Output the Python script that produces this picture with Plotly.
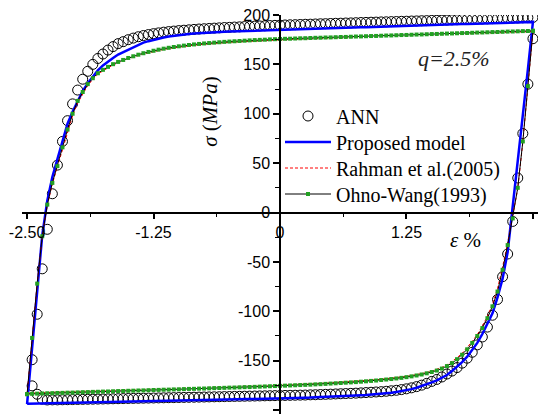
import plotly.graph_objects as go

# strain grid (%) for the loading branch (-2.5 -> 2.5)
STRAIN_UP = [
    -2.50, -2.45, -2.40, -2.35, -2.30, -2.25, -2.20, -2.15, -2.10, -2.05, -2.00,
    -1.95, -1.90, -1.85, -1.80, -1.75, -1.70, -1.65, -1.60, -1.55, -1.50,
    -1.45, -1.40, -1.35, -1.30, -1.25, -1.20, -1.15, -1.10, -1.05, -1.00,
    -0.95, -0.90, -0.85, -0.80, -0.75, -0.70, -0.65, -0.60, -0.55, -0.50,
    -0.45, -0.40, -0.35, -0.30, -0.25, -0.20, -0.15, -0.10, -0.05, 0.00,
    0.05, 0.10, 0.15, 0.20, 0.25, 0.30, 0.35, 0.40, 0.45, 0.50,
    0.55, 0.60, 0.65, 0.70, 0.75, 0.80, 0.85, 0.90, 0.95, 1.00,
    1.05, 1.10, 1.15, 1.20, 1.25, 1.30, 1.35, 1.40, 1.45, 1.50,
    1.55, 1.60, 1.65, 1.70, 1.75, 1.80, 1.85, 1.90, 1.95, 2.00,
    2.05, 2.10, 2.15, 2.20, 2.25, 2.30, 2.35, 2.40, 2.45, 2.50,
]
# unloading branch runs over the same strains in reverse (2.5 -> -2.5)
STRAIN_DOWN = STRAIN_UP[::-1]

# ANN (upper branch: -2.45 .. 2.50 ; lower branch: 2.50 .. -2.45)
ANN_UP = [
    -149, -103, -57, -17, 19, 48, 72, 93, 110, 124,
    135, 143, 150, 156, 160.5, 164.5, 168, 171, 173, 175,
    176.6, 178, 179.2, 180.2, 181.1, 181.9, 182.6, 183.2, 183.7, 184.2,
    184.6, 185.0, 185.4, 185.8, 186.1, 186.4, 186.7, 187.0, 187.3, 187.5,
    187.8, 188.0, 188.3, 188.5, 188.7, 188.9, 189.1, 189.3, 189.5, 189.7,
    189.9, 190.1, 190.2, 190.4, 190.6, 190.7, 190.9, 191.1, 191.2, 191.4,
    191.6, 191.7, 191.9, 192.0, 192.2, 192.4, 192.5, 192.7, 192.8, 193.0,
    193.1, 193.3, 193.4, 193.6, 193.7, 193.9, 194.0, 194.2, 194.3, 194.5,
    194.6, 194.8, 194.9, 195.1, 195.2, 195.4, 195.5, 195.7, 195.8, 196.0,
    196.1, 196.3, 196.4, 196.6, 196.7, 196.9, 197.0, 197.2, 197.3, 197.5,
]
ANN_DOWN = [
    176, 130, 80, 35, -9, -42, -65, -88, -104, -116,
    -126, -134, -141.5, -147.5, -152.5, -157, -160.5, -163.5, -166.5, -169,
    -171, -173, -174.8, -176.3, -177.5, -178.5, -179.3, -180.0, -180.5, -181.0,
    -181.4, -181.7, -182.0, -182.3, -182.6, -182.9, -183.1, -183.3, -183.5, -183.7,
    -183.9, -184.1, -184.3, -184.5, -184.6, -184.8, -184.9, -185.0, -185.1, -185.2,
    -185.3, -185.4, -185.5, -185.6, -185.7, -185.8, -185.9, -186.0, -186.1, -186.2,
    -186.3, -186.4, -186.5, -186.6, -186.7, -186.8, -186.9, -187.0, -187.1, -187.2,
    -187.3, -187.4, -187.5, -187.6, -187.7, -187.8, -187.9, -188.0, -188.1, -188.2,
    -188.3, -188.4, -188.5, -188.6, -188.7, -188.8, -188.9, -189.0, -189.1, -189.2,
    -189.3, -189.4, -189.5, -189.6, -189.7, -189.7, -189.8, -189.0, -184.0, -175.5,
]

# Proposed model
PROPOSED_UP = [
    -194,
    -136, -79, -23, 12, 36, 54, 72, 90, 102, 113,
    123, 131, 138, 144, 149, 153, 156.5, 160, 162.5, 165,
    167.5, 170, 172, 173.5, 175, 176.3, 177.3, 178.2, 179, 179.7,
    180.3, 180.8, 181.3, 181.7, 182.0, 182.3, 182.6, 182.9, 183.1, 183.3,
    183.5, 183.7, 183.9, 184.1, 184.2, 184.4, 184.6, 184.7, 184.9, 185.0,
    185.2, 185.3, 185.5, 185.6, 185.8, 186.0, 186.1, 186.3, 186.4, 186.6,
    186.8, 186.9, 187.1, 187.2, 187.4, 187.6, 187.7, 187.9, 188.0, 188.2,
    188.4, 188.5, 188.7, 188.8, 189.0, 189.2, 189.3, 189.5, 189.6, 189.8,
    190.0, 190.1, 190.3, 190.4, 190.6, 190.8, 190.9, 191.1, 191.2, 191.4,
    191.6, 191.7, 191.9, 192.0, 192.2, 192.4, 192.5, 192.7, 192.8, 193.0,
]
PROPOSED_DOWN = [
    193, 145, 97, 50, 3, -40, -67, -86, -102, -113,
    -123, -132, -139.5, -146, -151.5, -156.5, -160.5, -164.5, -167.5, -170,
    -172, -174, -175.8, -177.4, -178.8, -180.0, -181.0, -181.8, -182.5, -183.1,
    -183.6, -184.0, -184.4, -184.8, -185.1, -185.4, -185.7, -186.0, -186.2, -186.4,
    -186.6, -186.8, -187.0, -187.2, -187.4, -187.5, -187.7, -187.8, -188.0, -188.1,
    -188.2, -188.3, -188.5, -188.6, -188.7, -188.8, -188.9, -189.0, -189.1, -189.2,
    -189.3, -189.4, -189.5, -189.6, -189.7, -189.8, -189.9, -190.0, -190.1, -190.2,
    -190.3, -190.4, -190.5, -190.6, -190.7, -190.8, -190.9, -191.0, -191.1, -191.2,
    -191.3, -191.4, -191.5, -191.6, -191.7, -191.8, -191.9, -192.0, -192.1, -192.2,
    -192.3, -192.4, -192.5, -192.6, -192.7, -192.8, -192.9, -193.0, -193.1, -193.3,
    -193.5,
]

# Rahman et al. (2005)
RAHMAN_UP = [
    -184,
    -127, -72, -24, 7, 29, 46, 64, 82, 98, 111,
    120.5, 128.5, 135, 140, 143.5, 146.6, 149.3, 151.7, 153.7, 155.6,
    157.4, 159.0, 160.5, 161.8, 163.0, 164.1, 165.1, 166.0, 166.8, 167.5,
    168.2, 168.8, 169.4, 169.9, 170.4, 170.8, 171.2, 171.6, 172.0, 172.3,
    172.6, 172.9, 173.2, 173.5, 173.8, 174.0, 174.2, 174.5, 174.7, 174.9,
    175.1, 175.2, 175.4, 175.6, 175.7, 175.9, 176.1, 176.2, 176.4, 176.5,
    176.7, 176.9, 177.0, 177.2, 177.4, 177.5, 177.7, 177.9, 178.0, 178.2,
    178.4, 178.5, 178.7, 178.9, 179.0, 179.2, 179.4, 179.5, 179.7, 179.9,
    180.0, 180.2, 180.4, 180.5, 180.7, 180.9, 181.0, 181.2, 181.4, 181.5,
    181.7, 181.9, 182.0, 182.2, 182.4, 182.5, 182.7, 182.9, 183.0, 183.2,
]
RAHMAN_DOWN = [
    183.2, 127, 71, 24, -5, -31, -55, -77, -93, -105,
    -115, -123.5, -130.5, -137, -142.5, -147, -151, -154.2, -156.8, -158.9,
    -160.6, -162, -163.2, -164.2, -165.1, -165.9, -166.6, -167.2, -167.8, -168.3,
    -168.8, -169.3, -169.7, -170.1, -170.5, -170.9, -171.2, -171.5, -171.8, -172.1,
    -172.4, -172.7, -173.0, -173.2, -173.5, -173.7, -173.9, -174.1, -174.3, -174.5,
    -174.7, -174.9, -175.1, -175.3, -175.5, -175.7, -175.9, -176.0, -176.2, -176.4,
    -176.5, -176.7, -176.9, -177.0, -177.2, -177.4, -177.5, -177.7, -177.8, -178.0,
    -178.2, -178.3, -178.5, -178.6, -178.8, -178.9, -179.1, -179.3, -179.4, -179.6,
    -179.7, -179.9, -180.0, -180.2, -180.4, -180.5, -180.7, -180.8, -181.0, -181.1,
    -181.3, -181.5, -181.6, -181.8, -181.9, -182.1, -182.2, -182.4, -182.6, -182.8,
    -183.0,
]

# Ohno-Wang (1993)
OHNO_UP = [
    -184,
    -127, -72, -24, 8, 30, 47, 66, 84, 100, 113,
    122, 130, 136, 141, 144.5, 147.5, 150.2, 152.5, 154.5, 156.5,
    158.2, 159.8, 161.3, 162.6, 163.8, 164.9, 165.9, 166.8, 167.6, 168.3,
    169.0, 169.6, 170.2, 170.7, 171.2, 171.6, 172.0, 172.4, 172.8, 173.1,
    173.4, 173.7, 174.0, 174.3, 174.6, 174.8, 175.0, 175.3, 175.5, 175.7,
    175.9, 176.0, 176.2, 176.4, 176.5, 176.7, 176.9, 177.0, 177.2, 177.3,
    177.5, 177.7, 177.8, 178.0, 178.2, 178.3, 178.5, 178.7, 178.8, 179.0,
    179.2, 179.3, 179.5, 179.7, 179.8, 180.0, 180.2, 180.3, 180.5, 180.7,
    180.8, 181.0, 181.2, 181.3, 181.5, 181.7, 181.8, 182.0, 182.2, 182.3,
    182.5, 182.7, 182.8, 183.0, 183.2, 183.3, 183.5, 183.7, 183.8, 184.0,
]
OHNO_DOWN = [
    184, 128, 72, 25, -6, -33, -58, -80, -95, -107,
    -117, -125, -132, -138.5, -144, -148.5, -152.5, -155.5, -158, -160,
    -161.5, -162.8, -164, -165, -165.9, -166.7, -167.4, -168, -168.6, -169.1,
    -169.6, -170.1, -170.5, -170.9, -171.3, -171.7, -172.0, -172.3, -172.6, -172.9,
    -173.2, -173.5, -173.8, -174.0, -174.3, -174.5, -174.7, -174.9, -175.1, -175.3,
    -175.5, -175.7, -175.9, -176.1, -176.3, -176.5, -176.7, -176.8, -177.0, -177.2,
    -177.3, -177.5, -177.7, -177.8, -178.0, -178.2, -178.3, -178.5, -178.6, -178.8,
    -179.0, -179.1, -179.3, -179.4, -179.6, -179.7, -179.9, -180.1, -180.2, -180.4,
    -180.5, -180.7, -180.8, -181.0, -181.2, -181.3, -181.5, -181.6, -181.8, -181.9,
    -182.1, -182.3, -182.4, -182.6, -182.7, -182.9, -183.0, -183.2, -183.4, -183.6,
    -183.8,
]

X_TICKS = [-2.5, -1.25, 0, 1.25, 2.5]
X_TICK_TEXT = ["-2.50", "-1.25", "0", "1.25", "2.50"]
Y_TICKS = [-200, -150, -100, -50, 0, 50, 100, 150, 200]
Y_TICK_TEXT = ["-200", "-150", "-100", "-50", "0", "50", "100", "150", "200"]

SERIES_NAMES = ["ANN", "Proposed model", "Rahman et al.(2005)", "Ohno-Wang(1993)"]

X_RANGE = [-2.55, 2.55]
Y_RANGE = [-204, 200]

MARGIN_T, PLOT_H = 15, 399
# one legend box per series so the row spacing can match the original
LEGEND_ROW_CENTERS_PX = [115, 141, 167, 193]

fig = go.Figure()

fig.add_trace(go.Scatter(
    x=STRAIN_DOWN[:-1] + STRAIN_UP[1:], y=ANN_DOWN + ANN_UP,
    mode="markers", name=SERIES_NAMES[0], legend="legend",
    marker=dict(symbol="circle-open", size=10, color="black", line=dict(width=1, color="black")),
))
fig.add_trace(go.Scatter(
    x=STRAIN_UP + STRAIN_DOWN, y=PROPOSED_UP + PROPOSED_DOWN,
    mode="lines", name=SERIES_NAMES[1], legend="legend2",
    line=dict(color="#0000ff", width=2.5),
))
fig.add_trace(go.Scatter(
    x=STRAIN_UP + STRAIN_DOWN, y=RAHMAN_UP + RAHMAN_DOWN,
    mode="lines", name=SERIES_NAMES[2], legend="legend3",
    line=dict(color="#ff0000", width=1, dash="3px,2px"),
))
fig.add_trace(go.Scatter(
    x=STRAIN_UP + STRAIN_DOWN, y=OHNO_UP + OHNO_DOWN,
    mode="lines+markers", name=SERIES_NAMES[3], legend="legend4",
    line=dict(color="black", width=1),
    marker=dict(symbol="square", size=4, color="#22a022", line=dict(width=0)),
))

x0_pos = (0 - Y_RANGE[0]) / (Y_RANGE[1] - Y_RANGE[0])
y0_pos = (0 - X_RANGE[0]) / (X_RANGE[1] - X_RANGE[0])

tick_font = dict(family="Liberation Sans, Arial, sans-serif", size=16, color="black")
legend_font = dict(family="Liberation Serif, Times New Roman, serif", size=20, color="black")


def legend_box(center_px):
    top_px = center_px - 18.5
    return dict(
        x=0.5, y=1 - (top_px - MARGIN_T) / PLOT_H, xanchor="left", yanchor="top",
        bgcolor="rgba(0,0,0,0)", borderwidth=0, font=legend_font,
        itemwidth=46, tracegroupgap=0,
    )


fig.update_layout(
    width=548, height=414,
    margin=dict(l=22, r=10, t=MARGIN_T, b=0),
    paper_bgcolor="white", plot_bgcolor="white",
    showlegend=True,
    legend=legend_box(LEGEND_ROW_CENTERS_PX[0]),
    legend2=legend_box(LEGEND_ROW_CENTERS_PX[1]),
    legend3=legend_box(LEGEND_ROW_CENTERS_PX[2]),
    legend4=legend_box(LEGEND_ROW_CENTERS_PX[3]),
    xaxis=dict(
        range=X_RANGE, anchor="free", position=x0_pos,
        showline=True, linecolor="black", linewidth=1.5,
        showgrid=False, zeroline=False,
        ticks="outside", ticklen=6, tickwidth=1.5, tickcolor="black",
        tickmode="array", tickvals=X_TICKS, ticktext=X_TICK_TEXT,
        tickfont=tick_font, automargin=False,
        minor=dict(ticks="outside", ticklen=4, tickwidth=1.2, tickcolor="black",
                   tickmode="linear", tick0=0, dtick=0.625, showgrid=False),
    ),
    yaxis=dict(
        range=Y_RANGE, anchor="free", position=y0_pos,
        showline=True, linecolor="black", linewidth=1.5,
        showgrid=False, zeroline=False,
        ticks="outside", ticklen=6, tickwidth=1.5, tickcolor="black",
        tickmode="array", tickvals=Y_TICKS, ticktext=Y_TICK_TEXT,
        tickfont=tick_font, automargin=False,
        minor=dict(ticks="outside", ticklen=4, tickwidth=1.2, tickcolor="black",
                   tickmode="linear", tick0=0, dtick=25, showgrid=False),
    ),
    annotations=[
        dict(text="<i>q=2.5%</i>", x=0.837, y=0.89, xref="paper", yref="paper",
             showarrow=False, xanchor="center", yanchor="middle",
             font=dict(family="Liberation Serif, Times New Roman, serif", size=22, color="#222222")),
        dict(text="<i>σ</i> (<i>MPa</i>)", x=0.364, y=0.757, xref="paper", yref="paper",
             showarrow=False, xanchor="center", yanchor="middle", textangle=-90,
             font=dict(family="Liberation Serif, Times New Roman, serif", size=21, color="black")),
        dict(text="<i>ε</i> %", x=0.86, y=0.436, xref="paper", yref="paper",
             showarrow=False, xanchor="center", yanchor="middle",
             font=dict(family="Liberation Serif, Times New Roman, serif", size=21, color="black")),
    ],
)

fig.write_html("out.html")
